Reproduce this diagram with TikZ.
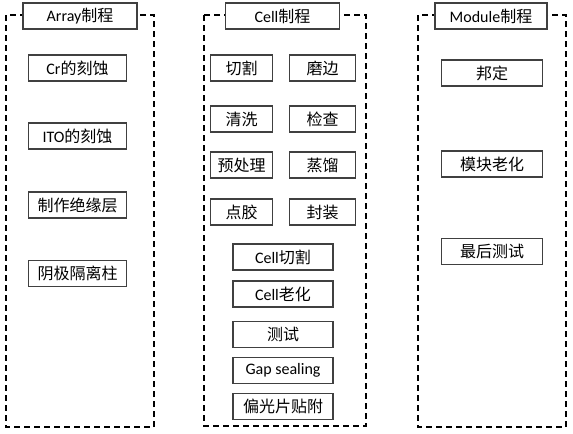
\documentclass[tikz,border=0pt]{standalone}
\usepackage{fontspec}
\setmainfont{Carlito}
\newfontfamily\cjk{Noto Sans CJK SC}
\begin{document}
\begin{tikzpicture}[x=0.75pt,y=-0.75pt,
  frame/.style = {draw=black,line width=1.4pt,dash pattern=on 4.5pt off 3pt},
  title/.style = {rectangle,draw=black!75,fill=white,line width=0.8pt,minimum height=19.5pt,inner sep=0pt,font=\fontsize{12}{14}\selectfont},
  cell/.style = {rectangle,draw=black!75,line width=0.8pt,minimum height=19.5pt,inner sep=0pt,font=\fontsize{12}{14}\selectfont}]
\useasboundingbox (0,0) rectangle (573,433);
% frames
\draw[frame] (6,15) rectangle (154,427);
\draw[frame] (204,15) rectangle (366,426);
\draw[frame] (418,15) rectangle (566,427);
\node[title,minimum width=85.5pt] (tArray) at (80,16) {Array{\cjk 制程}};
\node[title,minimum width=86pt] (tCell) at (282.5,16) {Cell{\cjk 制程}};
\node[title,minimum width=84pt] (tModule) at (491,16) {Module{\cjk 制程}};
% Array
\node[cell,minimum width=74pt] (a1) at (77.5,68) {Cr{\cjk 的刻蚀}};
\node[cell,minimum width=74pt] (a2) at (77.5,136) {ITO{\cjk 的刻蚀}};
\node[cell,minimum width=74pt] (a3) at (77.5,205) {\cjk 制作绝缘层};
\node[cell,minimum width=74pt] (a4) at (77.5,273.5) {\cjk 阴极隔离柱};
% Cell
\foreach \l/\r/\y [count=\i] in {切割/磨边/68,清洗/检查/119,预处理/蒸馏/165,点胶/封装/212} {
  \node[cell,minimum width=47pt] (cl\i) at (241.5,\y) {\cjk \l};
  \node[cell,minimum width=49pt] (cr\i) at (322.5,\y) {\cjk \r};
}
\node[cell,minimum width=75pt] (c1) at (283,257) {Cell{\cjk 切割}};
\node[cell,minimum width=75pt] (c2) at (283,294) {Cell{\cjk 老化}};
\node[cell,minimum width=75pt] (c3) at (283,334.5) {\cjk 测试};
\node[cell,minimum width=75pt] (c4) at (283,370.5) {Gap sealing};
\node[cell,minimum width=75pt] (c5) at (283,406.5) {\cjk 偏光片贴附};
% Module
\node[cell,minimum width=75.5pt] (m1) at (492,73) {\cjk 邦定};
\node[cell,minimum width=75.5pt] (m2) at (492,164) {\cjk 模块老化};
\node[cell,minimum width=75.5pt] (m3) at (492,251.5) {\cjk 最后测试};
\end{tikzpicture}
\end{document}
